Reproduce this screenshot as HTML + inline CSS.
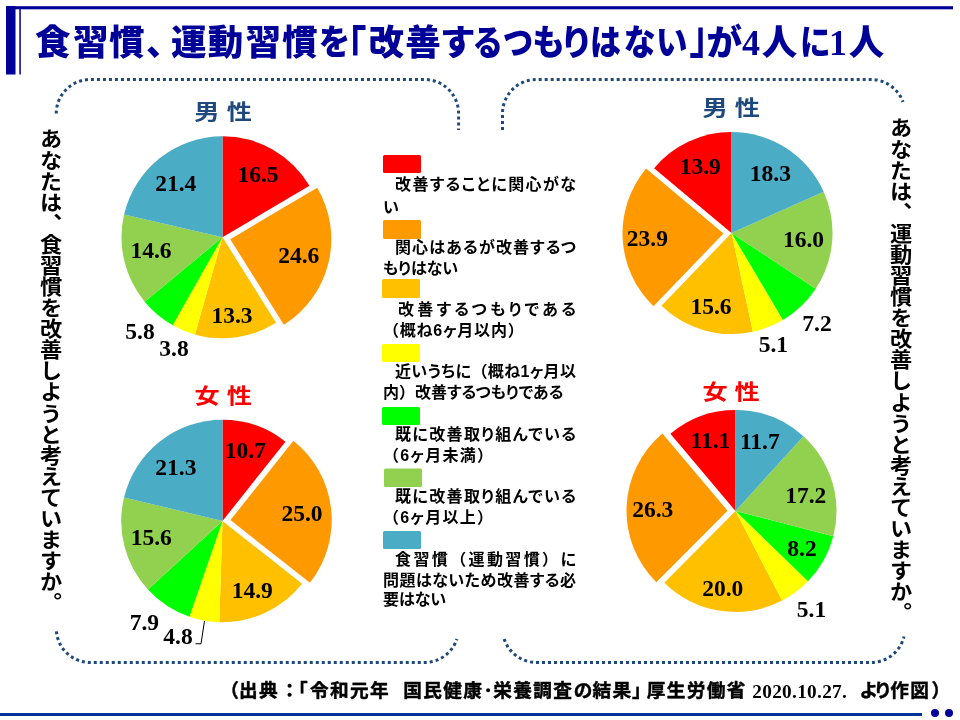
<!DOCTYPE html>
<html lang="ja"><head><meta charset="utf-8"><title>食習慣、運動習慣</title>
<style>
html,body{margin:0;padding:0;background:#fff}
body{width:960px;height:720px;position:relative;overflow:hidden;font-family:"Liberation Sans","Noto Sans CJK JP",sans-serif}
svg{position:absolute;left:0;top:0}
.num text{font-family:"Liberation Serif",serif;font-weight:700;font-size:23.5px;text-anchor:middle;fill:#000}
.hd text{font-family:"Liberation Sans","Noto Sans CJK JP",sans-serif;font-weight:700;font-size:21px}
.title{font-family:"Liberation Sans","Noto Sans CJK JP",sans-serif;font-weight:900;font-size:35.5px;fill:#000099}
.title .b{font-weight:700;font-size:47px}
.title .s{font-family:"Liberation Serif",serif;font-weight:700;font-size:36px}
.vt{position:absolute;transform:scaleX(1.06);writing-mode:vertical-rl;font-weight:700;font-size:21px;letter-spacing:0.08px;line-height:24px;width:24px;color:#000;white-space:nowrap}
.leg{position:absolute;left:383px;width:193px;font-weight:700;font-size:16px;line-height:20.5px;color:#000;font-feature-settings:'palt'}
.ln{white-space:nowrap;position:relative}
.fw{font-feature-settings:normal}
.ln.f{text-indent:12px}
.ln.j{text-align:justify;text-align-last:justify;white-space:normal}
.src{font-family:"Liberation Sans","Noto Sans CJK JP",sans-serif;font-weight:700;font-size:18.67px;letter-spacing:1.33px;fill:#000;stroke:#000;stroke-width:0.45px}
.src .s{font-family:"Liberation Serif",serif;font-size:19.3px;letter-spacing:0.3px;stroke:none}
</style></head><body>
<svg width="960" height="720" viewBox="0 0 960 720">
<rect x="6" y="6.2" width="947" height="3.1" fill="#000099"/>
<rect x="6" y="6" width="9.5" height="68.5" fill="#000099"/>
<rect x="19.3" y="8" width="1.5" height="66.5" fill="#000099"/>
<rect x="0" y="713" width="922" height="3" fill="#003399"/>
<circle cx="935" cy="713" r="4" fill="#000099"/><circle cx="949" cy="713" r="4" fill="#000099"/>
<g fill="none" stroke="#1F497D" stroke-width="3" stroke-dasharray="3 3">
<path d="M56.25 113.5A34 34 0 0 1 90.25 79.5H424.6A34 34 0 0 1 458.6 113.5V130"/>
<path d="M56.25 628.5A34 34 0 0 0 90.25 662.5H424.6A34 34 0 0 0 456.9 639" stroke-dashoffset="3.15"/>
<path d="M502.5 130V113.5A34 34 0 0 1 536.5 79.5H871A34 34 0 0 1 903 102"/>
<path d="M504.2 639A34 34 0 0 0 536.5 662.5H871A34 34 0 0 0 904.05 636.5"/>
</g>
<path d="M222.50 237.25L222.50 136.25A101 101 0 0 1 309.43 185.84Z" fill="#FF0000"/>
<path d="M230.27 239.14L317.21 187.73A101 101 0 0 1 283.85 324.76Z" fill="#FF9900"/>
<path d="M222.50 237.25L276.08 322.87A101 101 0 0 1 194.93 334.41Z" fill="#FFC000"/>
<path d="M222.50 237.25L194.93 334.41A101 101 0 0 1 172.73 325.14Z" fill="#FFFF00"/>
<path d="M222.50 237.25L172.73 325.14A101 101 0 0 1 144.68 301.63Z" fill="#00FF00"/>
<path d="M222.50 237.25L144.68 301.63A101 101 0 0 1 124.07 214.60Z" fill="#92D050"/>
<path d="M222.50 237.25L124.07 214.60A101 101 0 0 1 222.50 136.25Z" fill="#4BACC6"/>
<path d="M222.50 521.00L222.50 419.75A101.25 101.25 0 0 1 285.45 441.70Z" fill="#FF0000"/>
<path d="M230.45 520.07L293.40 440.77A101.25 101.25 0 0 1 309.94 582.78Z" fill="#FF9900"/>
<path d="M222.50 521.00L302.00 583.70A101.25 101.25 0 0 1 219.33 622.20Z" fill="#FFC000"/>
<path d="M222.50 521.00L219.33 622.20A101.25 101.25 0 0 1 189.47 616.71Z" fill="#FFFF00"/>
<path d="M222.50 521.00L189.47 616.71A101.25 101.25 0 0 1 147.94 589.50Z" fill="#00FF00"/>
<path d="M222.50 521.00L147.94 589.50A101.25 101.25 0 0 1 124.04 497.41Z" fill="#92D050"/>
<path d="M222.50 521.00L124.04 497.41A101.25 101.25 0 0 1 222.50 419.75Z" fill="#4BACC6"/>
<path d="M731.50 233.00L731.50 132.00A101 101 0 0 0 654.08 168.13Z" fill="#FF0000"/>
<path d="M723.51 233.43L646.10 168.56A101 101 0 0 0 653.45 306.18Z" fill="#FF9900"/>
<path d="M731.50 233.00L661.44 305.75A101 101 0 0 0 752.91 331.70Z" fill="#FFC000"/>
<path d="M731.50 233.00L752.91 331.70A101 101 0 0 0 782.91 319.93Z" fill="#FFFF00"/>
<path d="M731.50 233.00L782.91 319.93A101 101 0 0 0 815.74 288.72Z" fill="#00FF00"/>
<path d="M731.50 233.00L815.74 288.72A101 101 0 0 0 823.68 191.73Z" fill="#92D050"/>
<path d="M731.50 233.00L823.68 191.73A101 101 0 0 0 731.50 132.00Z" fill="#4BACC6"/>
<path d="M735.50 511.00L735.50 410.00A101 101 0 0 0 670.42 433.77Z" fill="#FF0000"/>
<path d="M727.51 510.67L662.42 433.44A101 101 0 0 0 656.31 582.31Z" fill="#FF9900"/>
<path d="M735.50 511.00L664.31 582.64A101 101 0 0 0 782.09 600.61Z" fill="#FFC000"/>
<path d="M735.50 511.00L782.09 600.61A101 101 0 0 0 808.04 581.28Z" fill="#FFFF00"/>
<path d="M735.50 511.00L808.04 581.28A101 101 0 0 0 833.30 536.22Z" fill="#00FF00"/>
<path d="M735.50 511.00L833.30 536.22A101 101 0 0 0 803.46 436.28Z" fill="#92D050"/>
<path d="M735.50 511.00L803.46 436.28A101 101 0 0 0 735.50 410.00Z" fill="#4BACC6"/>
<path d="M195.5 643.75H201L204.5 621" fill="none" stroke="#000" stroke-width="1"/>
<rect x="383" y="155" width="38" height="18" rx="1.5" fill="#FF0000"/>
<rect x="383" y="220" width="38" height="19" rx="1.5" fill="#FF9900"/>
<rect x="382" y="279" width="38" height="19" rx="1.5" fill="#FFC000"/>
<rect x="382" y="344" width="38" height="18" rx="1.5" fill="#FFFF00"/>
<rect x="382" y="407" width="38" height="18" rx="1.5" fill="#00FF00"/>
<rect x="384" y="468.5" width="38" height="18.5" rx="1.5" fill="#92D050"/>
<rect x="383" y="531" width="38" height="18" rx="1.5" fill="#4BACC6"/>
<g class="num">
<text x="258" y="181.6">16.5</text>
<text x="175.8" y="190.8">21.4</text>
<text x="151" y="258.2">14.6</text>
<text x="298.8" y="262.7">24.6</text>
<text x="232" y="323">13.3</text>
<text x="140" y="338.75">5.8</text>
<text x="174" y="355.75">3.8</text>
<text x="245.4" y="458">10.7</text>
<text x="175.9" y="474.5">21.3</text>
<text x="302" y="521">25.0</text>
<text x="151.25" y="545">15.6</text>
<text x="252.25" y="597.5">14.9</text>
<text x="144.4" y="629.5">7.9</text>
<text x="178" y="643.75">4.8</text>
<text x="700.2" y="173.7">13.9</text>
<text x="770.4" y="180.7">18.3</text>
<text x="803.5" y="246.8">16.0</text>
<text x="647.4" y="246.3">23.9</text>
<text x="711" y="314.3">15.6</text>
<text x="773.4" y="351.7">5.1</text>
<text x="817" y="330.8">7.2</text>
<text x="710.4" y="448">11.1</text>
<text x="759.8" y="448.8">11.7</text>
<text x="805.8" y="502.6">17.2</text>
<text x="652.8" y="516.6">26.3</text>
<text x="802" y="556">8.2</text>
<text x="722.8" y="596">20.0</text>
<text x="811.5" y="616.8">5.1</text>
</g>
<g class="hd">
<text fill="#1F497D" transform="matrix(1.2 0 0 1 194.3 119)" x="0 18 27" y="0">男 性</text>
<text fill="#FF0000" transform="matrix(1.2 0 0 1 194.4 402.9)" x="0 18 26.9" y="0">女 性</text>
<text fill="#1F497D" transform="matrix(1.2 0 0 1 702.4 114.8)" x="0 18 26.9" y="0">男 性</text>
<text fill="#FF0000" transform="matrix(1.2 0 0 1 702.5 398.9)" x="0 18 26.7" y="0">女 性</text>
</g>
<text class="title" y="54.5"><tspan x="35.1 73.0 108.9 145.9 171.1 207.8 245.5 282.0">食習慣、運動習慣</tspan><tspan x="318.8" textLength="31.5" lengthAdjust="spacingAndGlyphs">を</tspan><tspan x="329.0" class="b" y="65" textLength="37.6" lengthAdjust="spacingAndGlyphs">「</tspan><tspan x="368.4 405.3" y="54.5">改善</tspan><tspan x="440.1">す</tspan><tspan x="472.4" textLength="30.6" lengthAdjust="spacingAndGlyphs">る</tspan><tspan x="502.7" textLength="30.5" lengthAdjust="spacingAndGlyphs">つ</tspan><tspan x="532.3" textLength="32.7" lengthAdjust="spacingAndGlyphs">も</tspan><tspan x="559.9" textLength="33.2" lengthAdjust="spacingAndGlyphs">り</tspan><tspan x="589.9" textLength="30.9" lengthAdjust="spacingAndGlyphs">は</tspan><tspan x="623.8" textLength="31.9" lengthAdjust="spacingAndGlyphs">な</tspan><tspan x="656.1" textLength="31.5" lengthAdjust="spacingAndGlyphs">い</tspan><tspan x="689.3" class="b" y="52.75" textLength="37.6" lengthAdjust="spacingAndGlyphs">」</tspan><tspan x="706.5" y="54.5">が</tspan><tspan x="742.0" class="s">4</tspan><tspan x="761.7">人</tspan><tspan x="799.9" textLength="30.6" lengthAdjust="spacingAndGlyphs">に</tspan><tspan x="828.9" class="s">1</tspan><tspan x="848.7">人</tspan></text>
<text class="src" y="697.3"><tspan x="220.2">（</tspan><tspan x="239.0">出典</tspan><tspan x="280.2">：</tspan><tspan x="289.0">「</tspan><tspan x="310.0">令和元年 </tspan><tspan x="403.3">国民健康</tspan><tspan x="483.5">･</tspan><tspan x="493.2">栄養調査</tspan><tspan x="573.7">の</tspan><tspan x="592.6">結果</tspan><tspan x="632.0">」</tspan><tspan x="646.7">厚生労働省 </tspan><tspan x="752.3" class="s" dy="0.3">2020.10.27. </tspan><tspan dy="-0.3" x="859.4">よ</tspan><tspan x="873.5">り</tspan><tspan x="890.2">作図</tspan><tspan x="931.5">）</tspan></text>
</svg>
<div class="vt" style="left:37px;top:128px">あなたは、食習慣を改善しようと考えていますか。</div>
<div class="vt" style="left:886.5px;top:117px">あなたは、運動習慣を改善しようと考えていますか。</div>
<div class="leg" style="top:176.5px;line-height:20.75px"><div class="ln j f" style="top:-2px">改善することに関心がな</div><div class="ln" style="top:0.5px">い</div></div>
<div class="leg" style="top:240.25px;line-height:20.5px"><div class="ln j f" style="top:-1.8px">関心はあるが改善するつ</div><div class="ln" style="top:-1.3px">もりはない</div></div>
<div class="leg" style="top:300.75px;line-height:20.25px"><div class="ln j f" style="top:-0.75px;text-indent:15px">改善するつもりである</div><div class="ln" style="top:0px;letter-spacing:0.8px"><span class="fw">（</span>概ね6ヶ月以内<span class="fw">）</span></div></div>
<div class="leg" style="top:363.5px;line-height:20px"><div class="ln j f" style="top:-1.25px">近いうちに<span class="fw">（</span>概ね1ヶ月以</div><div class="ln" style="top:-0.5px">内<span class="fw">）</span>改善するつもりである</div></div>
<div class="leg" style="top:425px;line-height:21.5px"><div class="ln j f" style="top:-0.75px">既に改善取り組んでいる</div><div class="ln" style="top:-1.5px;letter-spacing:1.25px"><span class="fw">（</span>6ヶ月未満<span class="fw">）</span></div></div>
<div class="leg" style="top:486.1px;line-height:21.25px"><div class="ln j f" style="top:0.25px">既に改善取り組んでいる</div><div class="ln" style="top:0px;letter-spacing:1.25px"><span class="fw">（</span>6ヶ月以上<span class="fw">）</span></div></div>
<div class="leg" style="top:551px;line-height:20.25px"><div class="ln j f" style="top:-1px">食習慣<span class="fw">（</span>運動習慣<span class="fw">）</span>に</div><div class="ln j" style="top:-0.6px">問題はないため改善する必</div><div class="ln" style="top:-1.5px">要はない</div></div>

</body></html>
